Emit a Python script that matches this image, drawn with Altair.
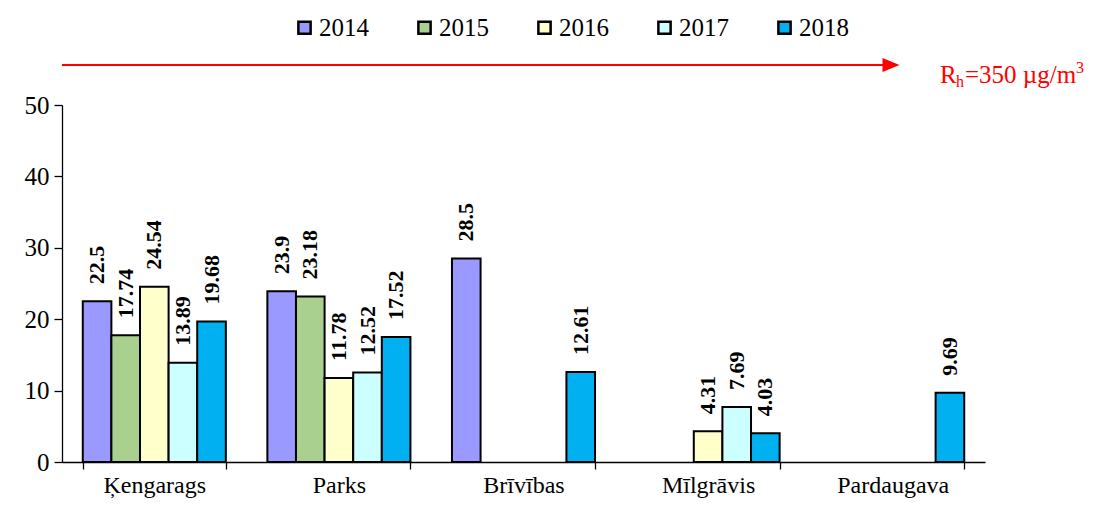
import altair as alt
import pandas as pd

sites = ["Ķengarags", "Parks", "Brīvības", "Mīlgrāvis", "Pardaugava"]
years = ["2014", "2015", "2016", "2017", "2018"]
v2014 = [22.5, 23.9, 28.5, None, None]
v2015 = [17.74, 23.18, None, None, None]
v2016 = [24.54, 11.78, None, 4.31, None]
v2017 = [13.89, 12.52, None, 7.69, None]
v2018 = [19.68, 17.52, 12.61, 4.03, 9.69]
colors = ["#9999FF", "#A9D08E", "#FFFFCC", "#CCFFFF", "#00B0F0"]
y_ticks = [0, 10, 20, 30, 40, 50]

series = dict(zip(years, [v2014, v2015, v2016, v2017, v2018]))
rows = []
for yr, vals in series.items():
    for s, v in zip(sites, vals):
        if v is not None:
            rows.append({"site": s, "year": yr, "value": v, "label": str(v)})
df = pd.DataFrame(rows)

FONT = "Liberation Serif"
W, H = 923, 357

x_enc = alt.X("site:N", sort=sites,
              scale=alt.Scale(paddingInner=0.225, paddingOuter=0.1125),
              axis=alt.Axis(title=None, labelAngle=0, tickBand="extent",
                            labelFontSize=24, labelFont=FONT, labelColor="black",
                            labelPadding=4, tickSize=7, tickColor="black",
                            domainColor="black", tickWidth=1.3, domainWidth=1.3))
xo_enc = alt.XOffset("year:N", scale=alt.Scale(domain=years, paddingInner=0, paddingOuter=0))
y_enc = alt.Y("value:Q", scale=alt.Scale(domain=[0, 50], nice=False),
              axis=alt.Axis(title=None, values=y_ticks, grid=False,
                            labelFontSize=25, labelFont=FONT, labelColor="black",
                            labelPadding=5, tickSize=8, tickColor="black",
                            domainColor="black", tickWidth=1.3, domainWidth=1.3))

base = alt.Chart(df)
bars = base.mark_bar(stroke="black", strokeWidth=2).encode(
    x=x_enc, xOffset=xo_enc, y=y_enc,
    color=alt.Color("year:N", scale=alt.Scale(domain=years, range=colors),
                    legend=alt.Legend(title=None, orient="none", direction="horizontal",
                                      columns=5, legendX=230, legendY=-90,
                                      symbolType="square", symbolSize=150,
                                      symbolStrokeColor="black", symbolStrokeWidth=2.5,
                                      symbolOpacity=1,
                                      labelFontSize=25, labelFont=FONT, labelColor="black",
                                      labelOffset=2, columnPadding=43, padding=0)))
labels = base.mark_text(angle=270, align="left", baseline="middle", dx=17,
                        fontSize=22, fontWeight="bold", font=FONT, color="black").encode(
    x=alt.X("site:N", sort=sites), xOffset=xo_enc, y="value:Q", text="label:N")

one = pd.DataFrame({"k": [0]})
arrow_line = alt.Chart(one).mark_rule(color="red", strokeWidth=2).encode(
    x=alt.value(0), x2=alt.value(823), y=alt.value(-40))
arrow_head = alt.Chart(one).mark_point(
    shape="M-1,-0.82L1,0L-1,0.82Z", filled=True, color="red", opacity=1, size=289).encode(
    x=alt.value(829), y=alt.value(-40))
t_R = alt.Chart(one).mark_text(text="R", align="left", baseline="alphabetic",
                               fontSize=25, font=FONT, color="red").encode(
    x=alt.value(878), y=alt.value(-22))
t_h = alt.Chart(one).mark_text(text="h", align="left", baseline="alphabetic",
                               fontSize=16, font=FONT, color="red").encode(
    x=alt.value(894), y=alt.value(-18))
t_main = alt.Chart(one).mark_text(text="=350 µg/m", align="left", baseline="alphabetic",
                                  fontSize=25, font=FONT, color="red").encode(
    x=alt.value(903), y=alt.value(-22))
t_3 = alt.Chart(one).mark_text(text="3", align="left", baseline="alphabetic",
                               fontSize=16, font=FONT, color="red").encode(
    x=alt.value(1014), y=alt.value(-32))

chart = alt.layer(bars, labels, arrow_line, arrow_head, t_R, t_h, t_main, t_3).properties(
    width=W, height=H,
    autosize=alt.AutoSizeParams(type="none"),
    padding={"left": 54, "top": 97, "right": 106, "bottom": 41},
).configure(background="white", view=alt.ViewConfig(stroke=None))

chart.save("out.html", embed_options={"renderer": "svg", "actions": False})
